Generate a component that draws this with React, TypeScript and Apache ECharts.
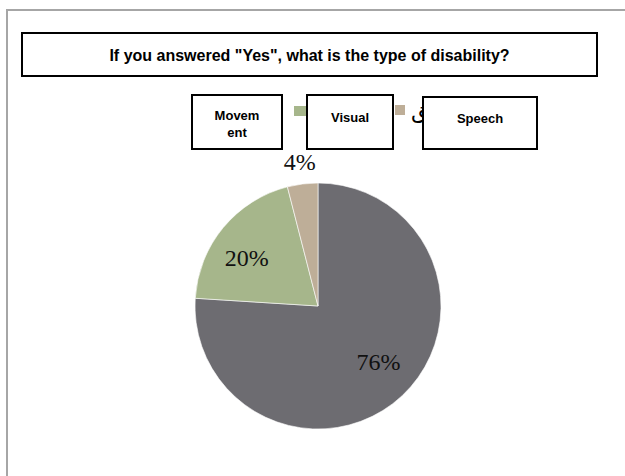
import React, { useEffect, useRef } from "react";
import * as echarts from "echarts";

const TITLE = 'If you answered "Yes", what is the type of disability?';
const categories = ["Movement", "Visual", "Speech"];
const boxLabels = ["Movem\nent", "Visual", "Speech"];
const arabicLabels = ["حركية", "بصرية", "نطق"];
const values = [76, 20, 4];
const colors = ["#6D6C71", "#A6B68B", "#BEAE98"];

export default function App() {
  const ref = useRef<HTMLDivElement>(null);
  useEffect(() => {
    if (!ref.current) return;
    const chart = echarts.init(ref.current, null, { renderer: "svg" });
    const center = [318, 306];
    const R = 123;
    const labelStyle = {
      fontFamily: "Liberation Serif",
      fontSize: 24,
      color: "#111",
    };
    const box = (x: number, y: number, w: number, h: number, text: string, ty: number, fs: number) => ({
      type: "group",
      z: 100,
      children: [
        {
          type: "rect",
          z: 100,
          shape: { x, y, width: w, height: h },
          style: { fill: "#fff", stroke: "#000", lineWidth: 2 },
        },
        {
          type: "text",
          z: 101,
          x: x + w / 2,
          y: ty,
          style: {
            text,
            fill: "#000",
            font: `bold ${fs}px "Liberation Sans", Arial, sans-serif`,
            align: "center",
            verticalAlign: "middle",
            lineHeight: 17,
          },
        },
      ],
    });
    const innerOffsets = [
      { dx: 0, dy: -9 },
      { dx: -3, dy: 8 },
      { dx: 0, dy: 0 },
    ];
    chart.setOption({
      animation: false,
      backgroundColor: "#fff",
      legend: [
        {
          left: 292,
          top: 104,
          padding: 0,
          icon: "rect",
          itemWidth: 14,
          itemHeight: 12,
          selectedMode: false,
          formatter: () => "",
          data: [categories[1]],
        },
        {
          left: 393,
          top: 99,
          padding: 0,
          icon: "rect",
          itemWidth: 12,
          itemHeight: 12,
          selectedMode: false,
          formatter: (name: string) => arabicLabels[categories.indexOf(name)],
          textStyle: {
            fontFamily: "DejaVu Sans",
            fontSize: 22,
            lineHeight: 22,
            color: "#000",
          },
          data: [categories[2]],
        },
      ],
      graphic: [
        {
          type: "rect",
          z: 0,
          shape: { x: 7, y: 10, width: 700, height: 600 },
          style: { fill: "none", stroke: "#A6A6A6", lineWidth: 2 },
        },
        box(22, 33, 575, 43, TITLE, 55, 16),
        box(192, 95, 90, 54, boxLabels[0], 124, 13),
        box(307, 95, 86, 54, boxLabels[1], 117, 13),
        box(423, 97, 114, 52, boxLabels[2], 118, 13),
      ],
      series: [
        {
          type: "pie",
          center,
          radius: [0, R],
          startAngle: 90,
          clockwise: true,
          silent: true,
          label: { show: false },
          labelLine: { show: false },
          itemStyle: { borderColor: "#fff", borderWidth: 0.6 },
          data: categories.map((c, i) => ({
            name: c,
            value: values[i],
            itemStyle: { color: colors[i] },
          })),
        },
        {
          type: "pie",
          center,
          radius: [48, R],
          startAngle: 90,
          silent: true,
          itemStyle: { color: "rgba(0,0,0,0)" },
          labelLine: { show: false },
          label: {
            show: true,
            position: "inside",
            formatter: (p: any) => `${p.value}%`,
            ...labelStyle,
          },
          labelLayout: (p: any) => innerOffsets[p.dataIndex],
          data: categories.map((c, i) => ({
            name: c,
            value: values[i],
            label: { show: i < 2 },
          })),
        },
        {
          type: "pie",
          center,
          radius: [R, 162],
          startAngle: 90,
          silent: true,
          itemStyle: { color: "rgba(0,0,0,0)" },
          labelLine: { show: false },
          label: {
            show: true,
            position: "inside",
            formatter: (p: any) => `${p.value}%`,
            ...labelStyle,
          },
          data: categories.map((c, i) => ({
            name: c,
            value: values[i],
            label: { show: i === 2 },
          })),
        },
      ],
    });
    return () => chart.dispose();
  }, []);
  return (
    <div
      ref={ref}
      style={{ position: "absolute", left: 0, top: 0, width: 625, height: 476 }}
    />
  );
}
